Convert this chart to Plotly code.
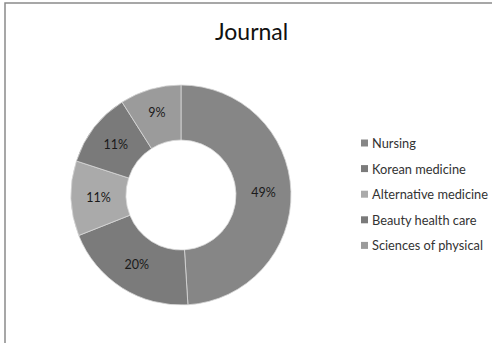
import plotly.graph_objects as go

# Journal distribution by field
labels = ["Nursing", "Korean medicine", "Alternative medicine", "Beauty health care", "Sciences of physical"]
shares = [49, 20, 11, 11, 9]
colors = ["#868686", "#7b7b7b", "#aaaaaa", "#7a7a7a", "#9b9b9b"]

W, H = 492, 343
FONT = "Lato, 'Open Sans', sans-serif"

# Donut geometry in pixels
cx, cy, r = 181, 195, 110


def px(x):
    return x / W


def py(y):
    return 1 - y / H


fig = go.Figure()
fig.add_trace(go.Pie(
    labels=labels,
    values=shares,
    hole=0.5,
    sort=False,
    direction="clockwise",
    rotation=0,
    marker=dict(colors=colors, line=dict(color="#d8d8d8", width=0.8)),
    texttemplate="%{value}%",
    textposition="inside",
    insidetextorientation="horizontal",
    textfont=dict(family=FONT, size=12.5, color="#1a1a1a"),
    showlegend=False,
    hoverinfo="label+percent",
    domain=dict(x=[px(cx - r), px(cx + r)], y=[py(cy + r), py(cy - r)]),
))

shapes = [
    # outer chart frame (left and top edges visible)
    dict(type="rect", xref="paper", yref="paper",
         x0=px(5), x1=px(W + 5), y0=py(H + 5), y1=py(3),
         line=dict(color="#8a8a8a", width=1.5), fillcolor="rgba(0,0,0,0)", layer="above"),
]
annotations = [
    dict(text="Journal", x=px(251), y=py(31), xref="paper", yref="paper",
         xanchor="center", yanchor="middle", showarrow=False,
         font=dict(family=FONT, size=23, color="#111111")),
]

# Legend built from the label list
leg_x, leg_y0, leg_dy, sq = 361, 143, 25.6, 7
for i, (lab, col) in enumerate(zip(labels, colors)):
    yc = leg_y0 + i * leg_dy
    shapes.append(dict(type="rect", xref="paper", yref="paper",
                       x0=px(leg_x), x1=px(leg_x + sq),
                       y0=py(yc + sq / 2), y1=py(yc - sq / 2),
                       fillcolor=col, line=dict(width=0)))
    annotations.append(dict(text=lab, x=px(leg_x + sq + 2), y=py(yc),
                            xref="paper", yref="paper", xanchor="left", yanchor="middle",
                            showarrow=False,
                            font=dict(family=FONT, size=12.8, color="#333333")))

fig.update_layout(
    width=W, height=H,
    margin=dict(l=0, r=0, t=0, b=0),
    paper_bgcolor="white",
    plot_bgcolor="white",
    shapes=shapes,
    annotations=annotations,
)

fig.write_html("out.html")
